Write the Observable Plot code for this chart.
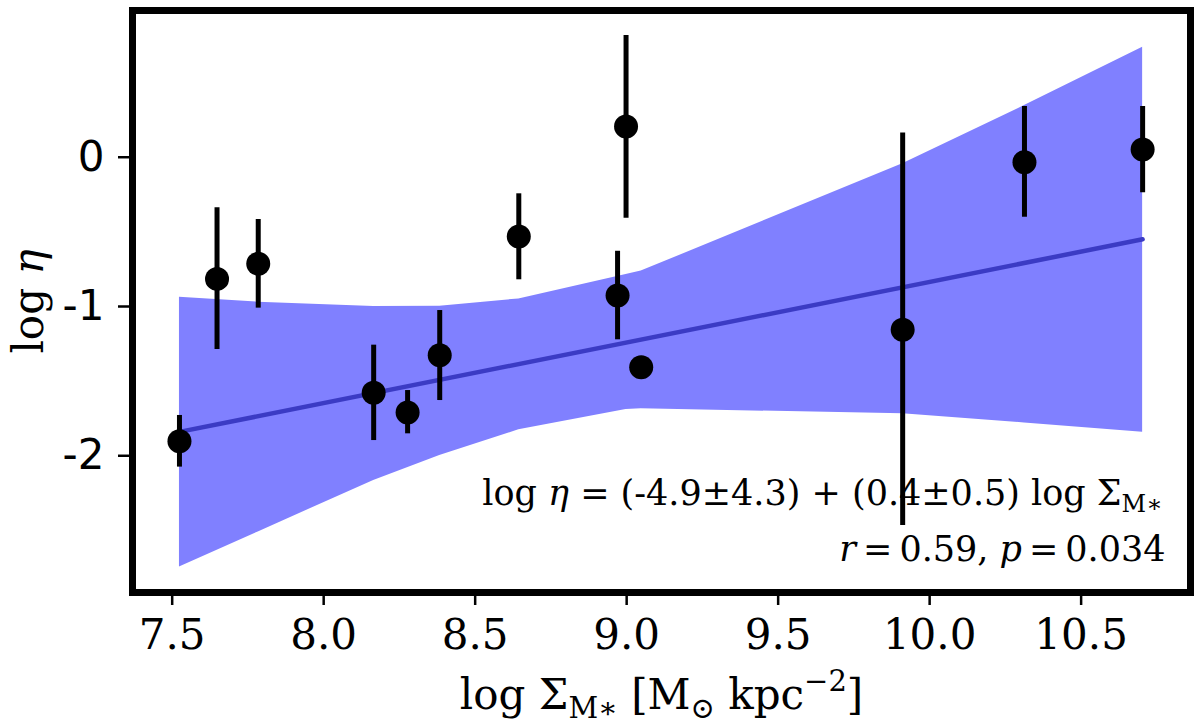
<!DOCTYPE html>
<html>
<head>
<meta charset="utf-8">
<script src="https://cdn.jsdelivr.net/npm/d3@7"></script>
<script src="https://cdn.jsdelivr.net/npm/@observablehq/plot@0.6"></script>
<style>
  body { margin: 0; background: white; }
  #chart { width: 1200px; height: 725px; }
</style>
</head>
<body>
<div id="chart"></div>
<script>
// galaxies: stellar mass surface density vs loading factor
let xs = [7.524, 7.648, 7.784, 8.165, 8.277, 8.383, 8.644, 8.970, 8.998, 9.048, 9.911, 10.313, 10.703];
let ys = [-1.902, -0.815, -0.714, -1.578, -1.710, -1.326, -0.531, -0.926, 0.206, -1.407, -1.156, -0.033, 0.052];
let errLo = [-2.076, -1.288, -1.011, -1.898, -1.853, -1.630, -0.821, -1.223, -0.409, null, -2.467, -0.402, -0.238];
let errHi = [-1.730, -0.339, -0.417, -1.259, -1.563, -1.027, -0.245, -0.630, 0.815, null, 0.163, 0.340, 0.340];

// confidence band of the fit
let bandX = [7.524, 7.784, 8.165, 8.383, 8.644, 8.998, 9.048, 9.911, 10.313, 10.703];
let bandLo = [-2.746, -2.51, -2.165, -1.998, -1.826, -1.69, -1.685, -1.719, -1.78, -1.842];
let bandHi = [-0.938, -0.971, -1.0, -0.998, -0.949, -0.785, -0.763, -0.044, 0.346, 0.737];

// best fit line
let fitX = [7.524, 10.703];
let fitY = [-1.84, -0.55];

let xTicks = [7.5, 8.0, 8.5, 9.0, 9.5, 10.0, 10.5];
let yTicks = [-2, -1, 0];

let fitText = "log η = (-4.9±4.3) + (0.4±0.5) log ΣM*";
let statText = "r = 0.59, p = 0.034";
let xTitle = "log ΣM* [M⊙ kpc−2]";
let yTitle = "log η";

let points = xs.map((x, i) => ({x: x, y: ys[i], lo: errLo[i], hi: errHi[i]}));
let band = bandX.map((x, i) => ({x: x, lo: bandLo[i], hi: bandHi[i]}));
let fit = fitX.map((x, i) => ({x: x, y: fitY[i]}));

const div = document.querySelector("#chart");

let plot = Plot.plot({
    width: 1200,
    height: 725,
    marginLeft: 132,
    marginRight: 10,
    marginTop: 10,
    marginBottom: 133,
    style: {fontFamily: "DejaVu Serif", fontSize: "42px", color: "black", background: "white"},
    x: {domain: [7.369, 10.861]},
    y: {domain: [-2.916, 0.983]},
    marks: [
        Plot.areaY(band, {x: "x", y1: "lo", y2: "hi", fill: "#8080ff", curve: "linear"}),
        Plot.line(fit, {x: "x", y: "y", stroke: "#3b3bc4", strokeWidth: 4.5}),
        Plot.ruleX(points.filter(d => d.lo != null), {x: "x", y1: "lo", y2: "hi", stroke: "black", strokeWidth: 5}),
        Plot.dot(points, {x: "x", y: "y", r: 12, fill: "black"}),
        Plot.axisX({ticks: xTicks, tickSize: 13, tickPadding: 14, strokeWidth: 2.5, fontSize: 42,
            fontFamily: "DejaVu Serif", tickFormat: d => d.toFixed(1), label: null}),
        Plot.axisY({ticks: yTicks, tickSize: 14, tickPadding: 14, strokeWidth: 2.5, fontSize: 42,
            fontFamily: "DejaVu Sans", tickFormat: d => String(d), label: null}),
        Plot.frame({stroke: "black", strokeWidth: 7}),
        Plot.text([fitText], {frameAnchor: "bottom-right", dx: -28, dy: -88, text: d => d,
            textAnchor: "end", lineAnchor: "bottom", fontSize: 35, fontFamily: "DejaVu Serif"}),
        Plot.text([statText], {frameAnchor: "bottom-right", dx: -25, dy: -32, text: d => d,
            textAnchor: "end", lineAnchor: "bottom", fontSize: 35, fontFamily: "DejaVu Serif"}),
        Plot.text([xTitle], {frameAnchor: "bottom", dy: 116, text: d => d,
            textAnchor: "middle", lineAnchor: "bottom", fontSize: 42, fontFamily: "DejaVu Serif"}),
        Plot.text([yTitle], {frameAnchor: "left", dx: -90, rotate: -90, text: d => d,
            textAnchor: "middle", lineAnchor: "bottom", fontSize: 42, fontFamily: "DejaVu Serif"})
    ]
});

div.innerHTML = '';
div.append(plot);

// swap plain strings for math-style tspans
function rich(plain, html) {
    d3.select(plot).selectAll("text").filter(function() {
        return this.textContent === plain;
    }).each(function() {
        let t = d3.select(this).select("tspan").empty() ? d3.select(this) : d3.select(this).select("tspan");
        t.html(html);
    });
}

const it = s => `<tspan font-style="italic">${s}</tspan>`;

rich(fitText, 'log ' + it('η') + ' = (-4.9±4.3) + (0.4±0.5) log Σ<tspan dy="7" font-size="24">M∗</tspan>');
rich(statText, it('r') + '\u2009=\u20090.59, ' + it('p') + '\u2009=\u20090.034');
rich(xTitle, 'log Σ<tspan dy="9" font-size="29">M∗</tspan><tspan dy="-9"> [M</tspan>' +
    '<tspan dy="9" font-size="29">⊙</tspan><tspan dy="-9"> kpc</tspan>' +
    '<tspan dy="-18" font-size="29">−2</tspan><tspan dy="18">]</tspan>');
rich(yTitle, 'log ' + it('η'));
</script>
</body>
</html>
